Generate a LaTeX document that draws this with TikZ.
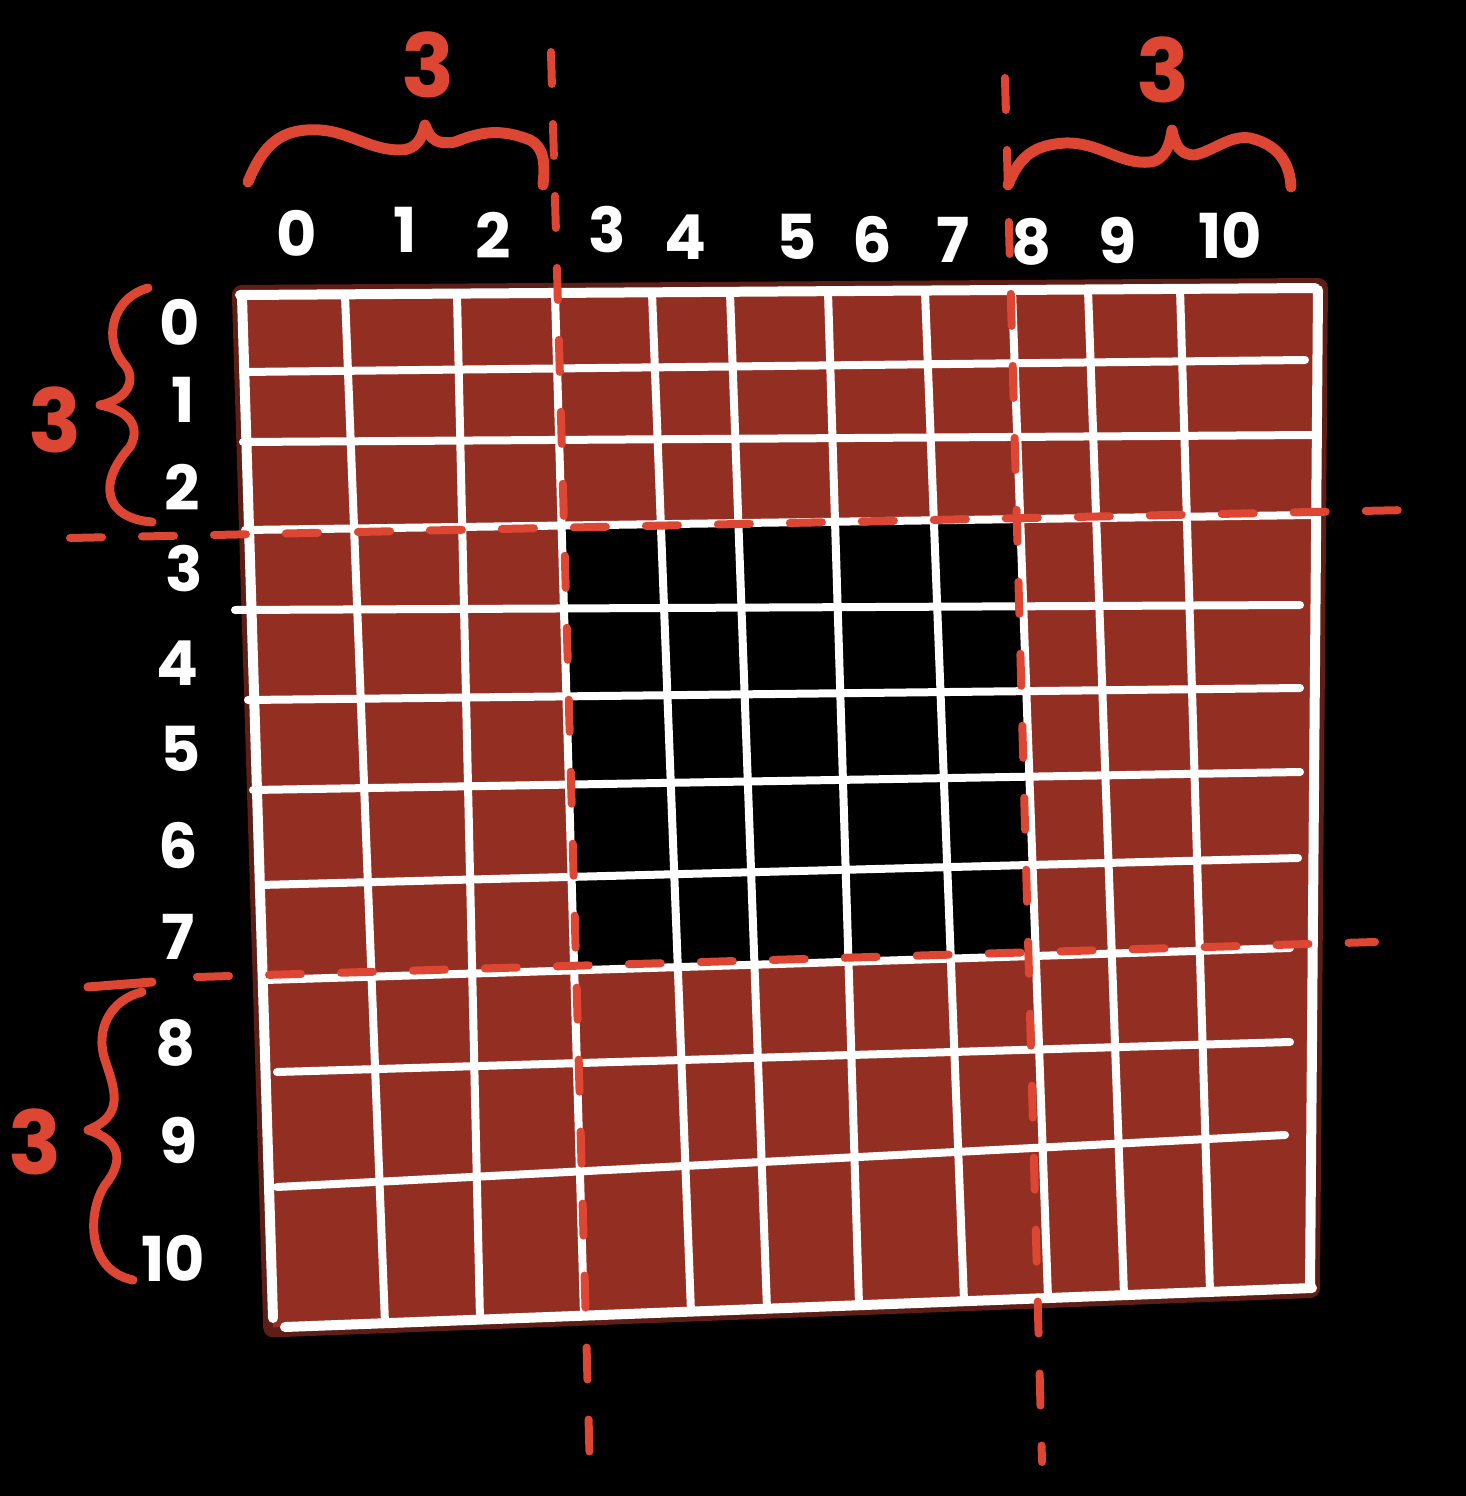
\documentclass[tikz,border=0pt]{standalone}
\usepackage{fontspec}
\setmainfont{Poppins}
\usetikzlibrary{calc}

\definecolor{brick}{HTML}{922E22}
\definecolor{brickdark}{HTML}{5E1D15}
\definecolor{pen}{HTML}{DC4632}

\tikzset{
  gridline/.style={white, line width=8pt, line cap=round},
  edgeline/.style={white, line width=10pt, line cap=round},
  cutline/.style={pen, line width=8pt, line cap=round, dash pattern=on 32pt off 40pt},
  bracepen/.style={pen, line width=11pt, line cap=round, line join=round},
  idx/.style={white, inner sep=0pt, font=\fontsize{62pt}{62pt}\selectfont\bfseries},
  count/.style={pen, inner sep=0pt, font=\fontsize{88pt}{88pt}\selectfont\bfseries},
}

\begin{document}
\begin{tikzpicture}[x=1pt, y=-1pt]
    % Background
    \fill[black] (0,0) rectangle (1466,1496);

    % Grid end points
    \foreach \i/\xt/\yt/\xb/\yb in {0/242/297/273/1318, 1/345/295/385/1323, 2/457/295/480/1320,
        3/555/294/584/1316, 4/652/293/691/1312, 5/730/293/767/1309, 6/828/292/859/1305,
        7/925/291/964/1301, 8/1012/290/1048/1298, 9/1088/290/1124/1295, 10/1180/289/1210/1292,
        11/1318/290/1310/1288}{
      \coordinate (ct\i) at (\xt,\yt);
      \coordinate (cb\i) at (\xb,\yb);
    }
    \foreach \j/\xl/\yl/\xr/\yr in {0/240/295/1315/288, 1/243/372/1305/360, 2/243/442/1312/435,
        3/245/530/1312/515, 4/235/610/1300/605, 5/248/700/1300/688, 6/253/790/1300/772,
        7/260/885/1298/858, 8/265/980/1290/948, 9/277/1072/1290/1042, 10/277/1187/1285/1135,
        11/285/1327/1312/1288}{
      \coordinate (rl\j) at (\xl,\yl);
      \coordinate (rr\j) at (\xr,\yr);
    }

    % Corners of the ring
    \coordinate (o1) at (intersection of ct0--cb0 and rl0--rr0);
    \coordinate (o2) at (intersection of ct11--cb11 and rl0--rr0);
    \coordinate (o3) at (intersection of ct11--cb11 and rl11--rr11);
    \coordinate (o4) at (intersection of ct0--cb0 and rl11--rr11);
    \coordinate (i1) at (intersection of ct3--cb3 and rl3--rr3);
    \coordinate (i2) at (intersection of ct8--cb8 and rl3--rr3);
    \coordinate (i3) at (intersection of ct8--cb8 and rl8--rr8);
    \coordinate (i4) at (intersection of ct3--cb3 and rl8--rr8);

    % Brick ring
    \draw[brickdark, line width=20pt, line join=round] (o1) -- (o2) -- (o3) -- (o4) -- cycle;
    \fill[brick, even odd rule] (o1) -- (o2) -- (o3) -- (o4) -- cycle
        (i1) -- (i2) -- (i3) -- (i4) -- cycle;

    % Grid
    \foreach \i in {1,...,10} \draw[gridline] (ct\i) -- (cb\i);
    \foreach \j in {1,...,10} \draw[gridline] (rl\j) -- (rr\j);
    \foreach \k in {0,11} {
      \draw[edgeline] (ct\k) -- (cb\k);
      \draw[edgeline] (rl\k) -- (rr\k);
    }

    % Cut lines
    \coordinate (v1a) at (551,52);
    \coordinate (v1b) at (590,1472);
    \coordinate (v2a) at (1005,78);
    \coordinate (v2b) at (1042,1462);
    \coordinate (h1a) at (70,538);
    \coordinate (h1b) at (1408,510);
    \coordinate (h2a) at (197,977);
    \coordinate (h2b) at (1375,942);
    \draw[cutline] (v1a) -- (v1b);
    \draw[cutline] (v2a) -- (v2b);
    \draw[cutline] (h1a) -- (h1b);
    \draw[cutline] (h2a) -- (h2b);

    % Braces
    \draw[bracepen] (248,182) .. controls (265,140) and (285,128) .. (320,130)
        .. controls (350,132) and (370,150) .. (400,150)
        .. controls (415,150) and (422,140) .. (425,125)
        .. controls (430,140) and (438,145) .. (455,142)
        .. controls (480,132) and (500,128) .. (530,140)
        .. controls (545,148) and (545,165) .. (543,185);
    \draw[bracepen] (1008,185) .. controls (1020,155) and (1035,145) .. (1065,143)
        .. controls (1100,142) and (1120,165) .. (1150,162)
        .. controls (1165,160) and (1170,145) .. (1172,130)
        .. controls (1175,145) and (1180,155) .. (1195,155)
        .. controls (1215,150) and (1230,135) .. (1250,138)
        .. controls (1280,145) and (1290,165) .. (1291,187);
    \draw[bracepen, line width=9pt] (148,288) .. controls (112,298) and (102,340) .. (125,365)
        .. controls (137,380) and (127,400) .. (100,405)
        .. controls (127,410) and (142,425) .. (130,447)
        .. controls (98,482) and (103,518) .. (152,522);
    \draw[bracepen, line width=9pt] (88,987) -- (152,982)
        (142,992) .. controls (110,1000) and (95,1030) .. (105,1060)
        .. controls (115,1090) and (125,1115) .. (88,1130)
        .. controls (120,1140) and (125,1160) .. (105,1185)
        .. controls (88,1210) and (85,1270) .. (133,1280);

    % Column numbers
    \foreach \i/\x/\y in {0/297/233, 1/405/230, 2/493/235, 3/607/230, 4/685/237, 5/797/237,
        6/872/240, 7/953/240, 8/1032/242, 9/1118/240, 10/1230/235}
      \node[idx] (c\i) at (\x,\y) {\i};

    % Row numbers
    \foreach \j/\x/\y in {0/180/322, 1/183/400, 2/182/487, 3/184/569, 4/177/663, 5/181/749,
        6/178/846, 7/178/937, 8/176/1043, 9/179/1140, 10/173/1258}
      \node[idx] (r\j) at (\x,\y) {\j};

    % Counts
    \node[count] (ntopleft) at (428,65) {3};
    \node[count] (ntopright) at (1163,70) {3};
    \node[count] (nlefttop) at (55,420) {3};
    \node[count] (nleftbottom) at (35,1142) {3};
\end{tikzpicture}
\end{document}
